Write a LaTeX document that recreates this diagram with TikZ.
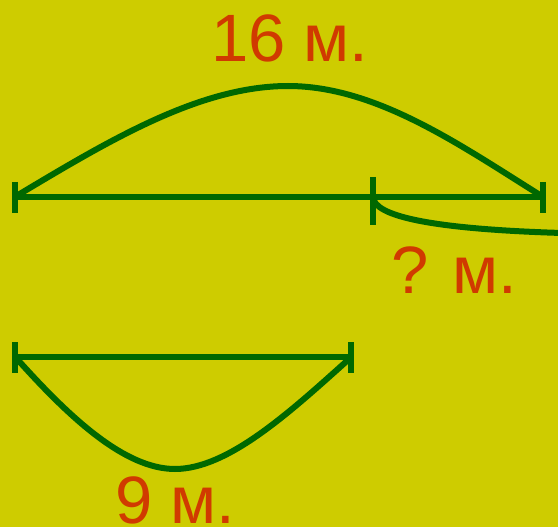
\documentclass[tikz,border=0pt]{standalone}
\usepackage{fontspec}
\setmainfont{Liberation Sans}
\newfontfamily\lblfont[WordSpace=0.95]{Liberation Sans}
\definecolor{bgc}{RGB}{206,204,0}
\definecolor{lnc}{RGB}{0,104,0}
\definecolor{txc}{RGB}{208,58,0}
\begin{document}
\begin{tikzpicture}[x=1pt,y=-1pt,
  seg/.style={draw=lnc,line width=6pt},
  lbl/.style={text=txc,inner sep=0pt,anchor=base,font=\lblfont\fontsize{67}{67}\selectfont}]
\fill[bgc] (0,0) rectangle (558,527);
\useasboundingbox (0,0) rectangle (558,527);
% top segment
\coordinate (A) at (15,197);
\coordinate (B) at (543,197);
\coordinate (M) at (373,197);
\coordinate (P) at (288,86);
\coordinate (E) at (562,233);
\draw[seg] (A) -- (B);
\draw[seg] (15,182) -- (15,213);
\draw[seg] (543,182) -- (543,213);
\draw[seg] (373,177) -- (373,225);
\draw[seg] (18,195) .. controls (110,140) and (200,86) .. (P)
  .. controls (376,86) and (460,145) .. (540,195);
\draw[seg] (M) .. controls (374,216) and (430,229) .. (E);
% bottom segment
\coordinate (C) at (15,357);
\coordinate (D) at (351,357);
\coordinate (Q) at (175,469);
\draw[seg] (C) -- (D);
\draw[seg] (15,342) -- (15,373);
\draw[seg] (351,342) -- (351,373);
\draw[seg] (18,360) .. controls (70,418) and (125,469) .. (Q)
  .. controls (228,469) and (290,412) .. (348,360);
% labels
\node[lbl] (t1) at (290,62) {16 м.};
\node[lbl] (t2) at (454,293) {? м.};
\node[lbl] (t3) at (175,523) {9 м.};
\end{tikzpicture}
\end{document}
